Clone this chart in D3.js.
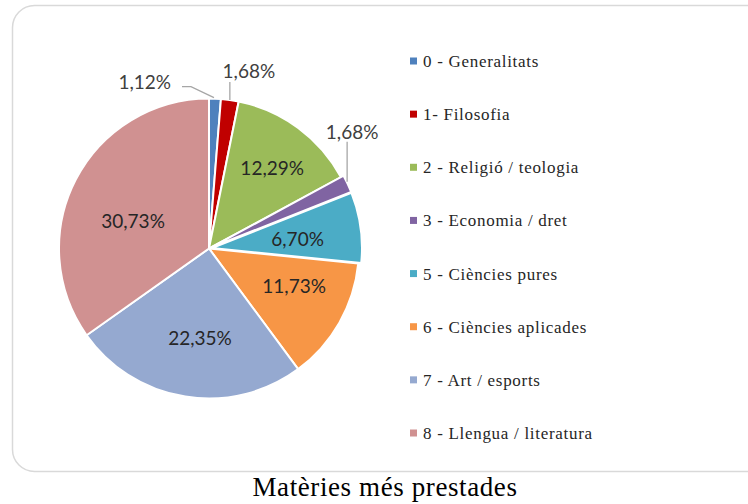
<!DOCTYPE html>
<html>
<head>
<meta charset="utf-8">
<script src="https://cdn.jsdelivr.net/npm/d3@7"></script>
<style>
  body { margin: 0; background: #fff; }
  svg { display: block; }
</style>
</head>
<body>
<svg id="chart" width="748" height="504"></svg>
<script>
// data
var categories = ['0 - Generalitats', '1- Filosofia', '2 - Religió / teologia', '3 - Economia / dret',
	'5 - Ciències pures', '6 - Ciències aplicades', '7 - Art / esports', '8 - Llengua / literatura'];
var values = [1.12, 1.68, 12.29, 1.68, 6.70, 11.73, 22.35, 30.73];
var labels = ['1,12%', '1,68%', '12,29%', '1,68%', '6,70%', '11,73%', '22,35%', '30,73%'];
var colors = ['#4f81bd', '#c00000', '#9bbb59', '#8064a2', '#4bacc6', '#f79646', '#95a9d0', '#d09191'];
var title = 'Matèries més prestades';

var svg = d3.select('#chart'),
	cx = 209, cy = 248.5, radius = 150;

var labelFont = 'Lato, "Open Sans", sans-serif',
	serifFont = '"Liberation Serif", "DejaVu Serif", serif';

// chart frame
svg.append('rect')
	.attr('x', 12.5).attr('y', 5.5)
	.attr('width', 760).attr('height', 466)
	.attr('rx', 22).attr('ry', 22)
	.attr('fill', '#fff')
	.attr('stroke', '#d9d9d9')
	.attr('stroke-width', 1.5);

var pie = d3.pie().sort(null).value(function (d) { return d; });
var arcs = pie(values);

var arc = d3.arc().innerRadius(0).outerRadius(radius);
var labelArc = d3.arc().innerRadius(radius * 0.63).outerRadius(radius * 0.63);

// exploded slices (purple + cyan)
var explode = [0, 0, 0, 3, 3, 0, 0, 0];
// small nudges so inside labels sit where Excel put them
var nudge = { 2: [7, -4], 4: [-5, 4], 5: [3, -9], 6: [6, -3], 7: [8, 16] };

var g = svg.append('g').attr('transform', 'translate(' + cx + ',' + cy + ')');

g.selectAll('path.slice')
	.data(arcs)
	.enter().append('path')
	.attr('class', 'slice')
	.attr('d', arc)
	.attr('fill', function (d, i) { return colors[i]; })
	.attr('stroke', '#fff')
	.attr('stroke-width', 2)
	.attr('transform', function (d, i) {
		var a = (d.startAngle + d.endAngle) / 2;
		return 'translate(' + (Math.sin(a) * explode[i]) + ',' + (-Math.cos(a) * explode[i]) + ')';
	});

// small slices get their label outside with a leader line
var outside = [0, 1, 3];

function edgePoint(d, i) {
	var a = (d.startAngle + d.endAngle) / 2,
		r = radius + explode[i];
	return [Math.sin(a) * r, -Math.cos(a) * r];
}

var leader = {
	0: { pts: function (p) { return [[p[0] - 1, p[1] - 1], [p[0] - 24, p[1] - 12], [p[0] - 33, p[1] - 12]]; }, anchor: 'end', dx: -44, dy: -10 },
	1: { pts: function (p) { return [[p[0], p[1]], [p[0], p[1] - 18]]; }, anchor: 'middle', dx: 19, dy: -21.5 },
	3: { pts: function (p) { return [[p[0] - 0.5, p[1] - 2], [p[0] - 0.5, p[1] - 42]]; }, anchor: 'middle', dx: 4.5, dy: -45 }
};

arcs.forEach(function (d, i) {
	if (outside.indexOf(i) === -1) {
		var c = labelArc.centroid(d),
			n = nudge[i] || [0, 0];
		g.append('text')
			.attr('x', c[0] + n[0]).attr('y', c[1] + n[1])
			.attr('text-anchor', 'middle')
			.attr('dy', '0.35em')
			.attr('font-family', labelFont)
			.attr('font-size', 19)
			.attr('fill', '#262626')
			.text(labels[i]);
		return;
	}
	var p = edgePoint(d, i),
		cfg = leader[i];
	g.append('polyline')
		.attr('points', cfg.pts(p).map(function (q) { return q.join(','); }).join(' '))
		.attr('fill', 'none')
		.attr('stroke', '#a6a6a6')
		.attr('stroke-width', 1.3);
	g.append('text')
		.attr('x', p[0] + cfg.dx).attr('y', p[1] + cfg.dy)
		.attr('text-anchor', cfg.anchor)
		.attr('font-family', labelFont)
		.attr('font-size', 19)
		.attr('fill', '#404040')
		.text(labels[i]);
});

// legend
var legendY = d3.scalePoint().domain(d3.range(categories.length)).range([61, 433]);

var legend = svg.append('g').selectAll('g')
	.data(categories)
	.enter().append('g')
	.attr('transform', function (d, i) { return 'translate(410,' + legendY(i) + ')'; });

legend.append('rect')
	.attr('x', 0).attr('y', -3.5)
	.attr('width', 7).attr('height', 7)
	.attr('fill', function (d, i) { return colors[i]; });

legend.append('text')
	.attr('x', 13).attr('dy', '0.35em')
	.attr('font-family', serifFont)
	.attr('font-size', 17)
	.attr('letter-spacing', 0.7)
	.attr('fill', '#262626')
	.text(function (d) { return d; });

// title below the frame
svg.append('text')
	.attr('x', 385).attr('y', 496)
	.attr('text-anchor', 'middle')
	.attr('font-family', serifFont)
	.attr('font-size', 27)
	.attr('letter-spacing', 0.6)
	.attr('fill', '#000')
	.text(title);
</script>
</body>
</html>
